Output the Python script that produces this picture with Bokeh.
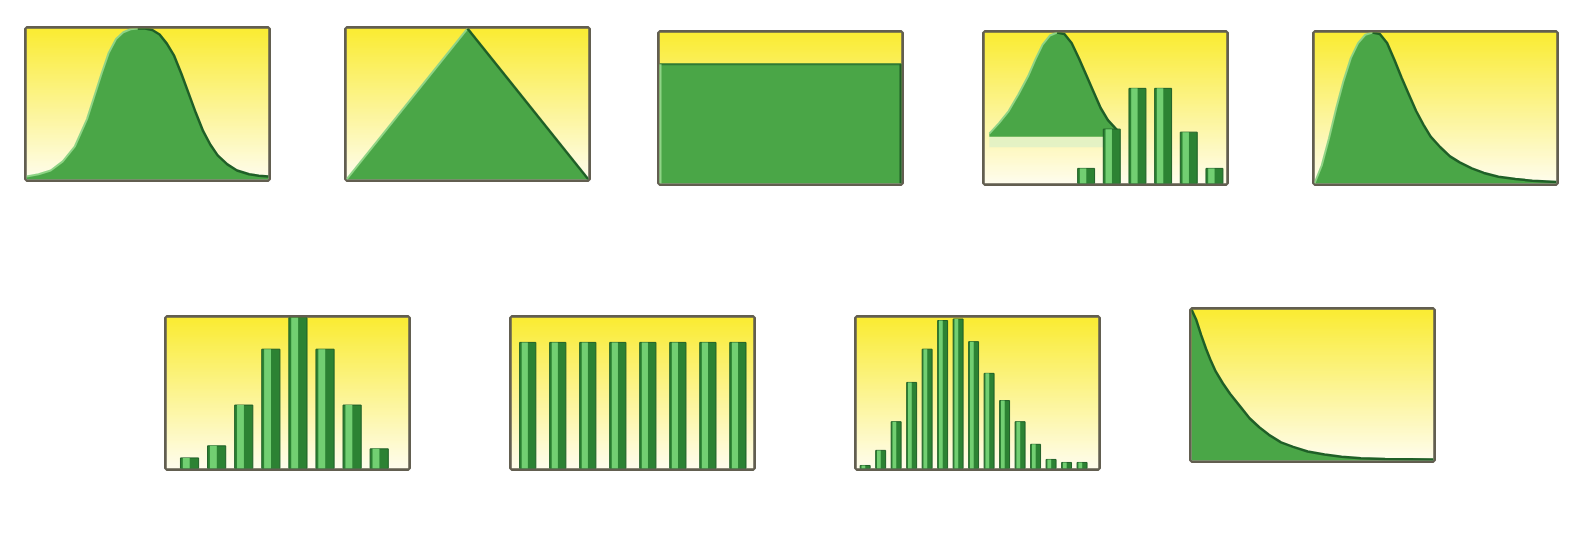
import numpy as np
from bokeh.plotting import figure
from bokeh.models import Range1d, Spacer, ColumnDataSource
from bokeh.layouts import row, column
from bokeh.transform import dodge
from bokeh.embed import file_html
from bokeh.resources import INLINE

# continuous shapes: x in % of the panel width, y as share of the peak
normal_x = [0, 5, 10, 15, 20, 25, 28, 31, 34, 37, 40, 43, 46, 49, 52, 55, 58, 61, 64,
            67, 70, 73, 76, 79, 83, 87, 92, 96, 100]
normal_y = [0.02, 0.035, 0.06, 0.12, 0.22, 0.40, 0.55, 0.70, 0.84, 0.93, 0.975, 0.995, 1.0,
            1.0, 0.99, 0.96, 0.90, 0.82, 0.70, 0.57, 0.44, 0.32, 0.23, 0.16, 0.10, 0.06,
            0.035, 0.025, 0.02]

tri_x = [0, 50, 100]
tri_y = [0.0, 1.0, 0.0]

unif_x = [0, 100]
unif_y = [0.79, 0.79]

hump_x = [2, 6, 10, 14, 18, 21, 24, 27, 30, 33, 36, 39, 42, 45, 48, 51, 55]
hump_y = [0.33, 0.40, 0.48, 0.59, 0.71, 0.82, 0.92, 0.98, 1.0, 0.99, 0.93, 0.83, 0.72,
          0.61, 0.50, 0.42, 0.35]
hump_base = 0.31
mixed_k = [0, 1, 2, 3, 4, 5]
mixed_p = [0.10, 0.36, 0.63, 0.63, 0.34, 0.10]

logn_x = [0, 3, 6, 9, 12, 15, 18, 21, 24, 27, 30, 33, 36, 39, 42, 45, 48, 52, 56, 60,
          65, 70, 76, 83, 90, 100]
logn_y = [0.0, 0.12, 0.30, 0.50, 0.68, 0.83, 0.93, 0.985, 1.0, 0.99, 0.93, 0.82, 0.70,
          0.59, 0.48, 0.39, 0.31, 0.24, 0.18, 0.14, 0.10, 0.07, 0.045, 0.03, 0.018, 0.01]

# discrete shapes
binom_k = [0, 1, 2, 3, 4, 5, 6, 7]
binom_p = [0.07, 0.15, 0.42, 0.79, 1.0, 0.79, 0.42, 0.13]

dunif_k = [0, 1, 2, 3, 4, 5, 6, 7]
dunif_p = [0.835, 0.835, 0.835, 0.835, 0.835, 0.835, 0.835, 0.835]

pois_k = [0, 1, 2, 3, 4, 5, 6, 7, 8, 9, 10, 11, 12, 13, 14]
pois_p = [0.02, 0.12, 0.31, 0.57, 0.79, 0.98, 0.99, 0.84, 0.63, 0.45, 0.31, 0.16, 0.06, 0.04, 0.04]

expo_x = [0, 2, 4, 6, 8, 10, 13, 16, 20, 24, 28, 32, 37, 42, 48, 55, 62, 70, 80, 100]
expo_y = [1.0, 0.93, 0.83, 0.74, 0.66, 0.59, 0.51, 0.44, 0.36, 0.28, 0.22, 0.17, 0.12,
          0.09, 0.06, 0.04, 0.025, 0.015, 0.01, 0.007]

GREEN = "#4aa647"
DARK = "#1f5f27"
LIGHT = "#8fd486"
BAR_DARK = "#2c8233"
BAR_LIGHT = "#72cf72"
FRAME = "#625e50"

W, H = 248, 157


def gradient():
    """vertical white -> yellow background, bottom row first"""
    t = np.linspace(0, 1, 64)[:, None]
    bottom = np.array([255, 253, 236])
    top = np.array([250, 236, 52])
    rgb = bottom + (top - bottom) * t[..., None]
    img = np.zeros((64, 1), dtype=np.uint32)
    view = img.view(dtype=np.uint8).reshape((64, 1, 4))
    view[..., :3] = rgb.astype(np.uint8)
    view[..., 3] = 255
    return img


def make_panel(x0, x1):
    p = figure(width=W, height=H, x_range=Range1d(x0, x1), y_range=Range1d(0, 1.0),
               toolbar_location=None, output_backend="svg", min_border=3)
    p.axis.visible = False
    p.grid.visible = False
    p.outline_line_color = FRAME
    p.outline_line_width = 5
    p.background_fill_color = "white"
    p.border_fill_color = "white"
    p.image_rgba(image=[gradient()], x=x0, y=0, dw=x1 - x0, dh=1.0)
    return p


def curve(p, xs, ys, base=0.0):
    peak = ys.index(max(ys))
    p.varea(x=xs, y1=base, y2=ys, fill_color=GREEN)
    p.line(xs[:peak + 1], ys[:peak + 1], line_color=LIGHT, line_width=2)
    p.line(xs[peak:], ys[peak:], line_color=DARK, line_width=2.5)


def bars(p, k, vals, width, range_name="default"):
    src = ColumnDataSource(data=dict(k=k, v=vals))
    p.vbar(x="k", top="v", width=width, source=src, fill_color=BAR_DARK,
           line_color=DARK, line_width=1, x_range_name=range_name)
    rng = p.x_range if range_name == "default" else p.extra_x_ranges[range_name]
    p.vbar(x=dodge("k", -width * 0.18, range=rng), top="v", width=width * 0.38,
           source=src, fill_color=BAR_LIGHT, line_color=None, x_range_name=range_name)


p1 = make_panel(0, 100)
curve(p1, normal_x, normal_y)

p2 = make_panel(0, 100)
curve(p2, tri_x, tri_y)

p3 = make_panel(0, 100)
p3.varea(x=unif_x, y1=0, y2=unif_y, fill_color=GREEN)
p3.line(unif_x, unif_y, line_color="#2f7a35", line_width=2)
p3.line([unif_x[-1], unif_x[-1]], [0, unif_y[-1]], line_color=DARK, line_width=4)
p3.line([unif_x[0], unif_x[0]], [0, unif_y[0]], line_color=LIGHT, line_width=4)

p4 = make_panel(0, 100)
p4.extra_x_ranges = {"bars": Range1d(-3.96, 5.47)}
p4.varea(x=[hump_x[0], hump_x[-1]], y1=0.24, y2=hump_base, fill_color="#d8efc8", fill_alpha=0.7)
curve(p4, hump_x, hump_y, base=hump_base)
bars(p4, mixed_k, mixed_p, 0.66, "bars")

p5 = make_panel(0, 100)
curve(p5, logn_x, logn_y)

p6 = make_panel(-0.85, 8.08)
bars(p6, binom_k, binom_p, 0.67)

p7 = make_panel(-0.54, 7.52)
bars(p7, dunif_k, dunif_p, 0.54)

p8 = make_panel(-0.56, 15.06)
bars(p8, pois_k, pois_p, 0.64)

p9 = make_panel(0, 100)
p9.varea(x=expo_x, y1=0, y2=expo_y, fill_color=GREEN)
p9.line(expo_x, expo_y, line_color=DARK, line_width=2.5)


def place(p, dy):
    return column(Spacer(height=dy, width=W), p) if dy else p


row1 = row(Spacer(width=23), place(p1, 0), Spacer(width=72), place(p2, 0),
           Spacer(width=65), place(p3, 4), Spacer(width=77), place(p4, 4),
           Spacer(width=82), place(p5, 4))
row2 = row(Spacer(width=163), place(p6, 8), Spacer(width=97), place(p7, 8),
           Spacer(width=97), place(p8, 8), Spacer(width=87), place(p9, 0))
layout = column(Spacer(height=25), row1, Spacer(height=120), row2)

open("out.html", "w").write(file_html(layout, INLINE))
